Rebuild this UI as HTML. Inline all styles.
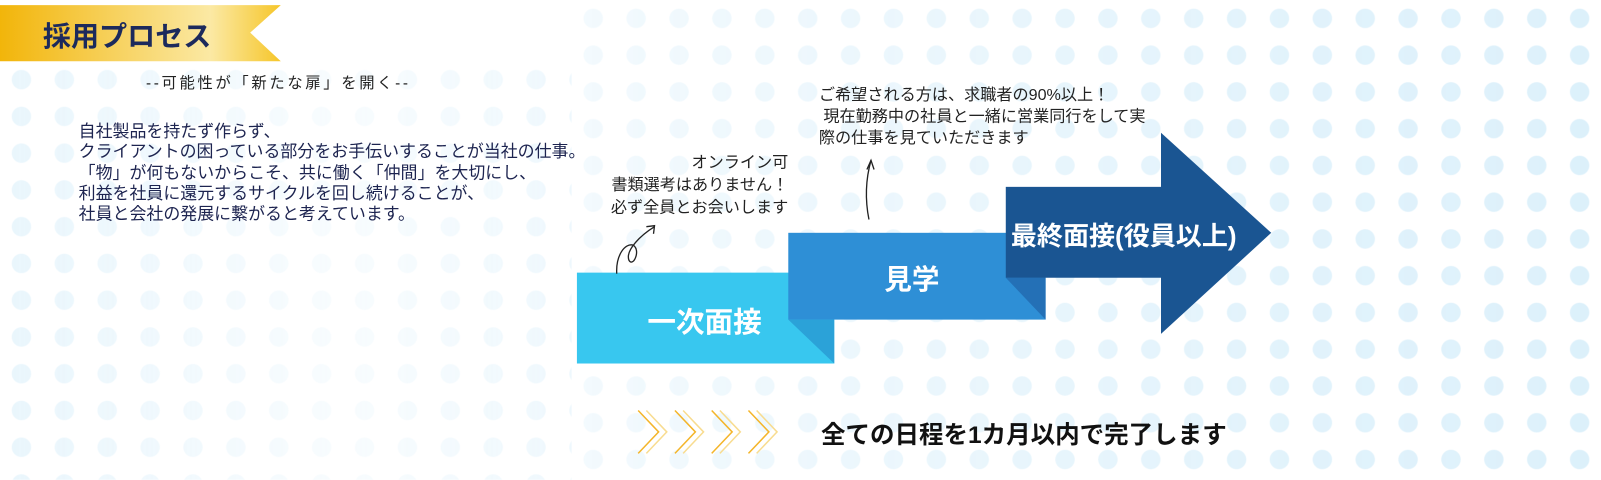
<!DOCTYPE html>
<html><head><meta charset="utf-8"><style>
html,body{margin:0;padding:0}
body{width:1601px;height:470px;position:relative;overflow:hidden;background:#fff;font-family:"Liberation Sans","Noto Sans CJK JP",sans-serif}
#w{position:absolute;left:0;top:0;width:1568px;height:460px;transform:scale(1.0211);transform-origin:0 0}
.dots{position:absolute;background-image:radial-gradient(circle,#cdeaf9 0,#cdeaf9 9px,transparent 10px);background-size:42px 36px}
.t{position:absolute;white-space:nowrap;color:#1d2450}
</style></head><body><div id="w">
<div class="dots" style="left:0;top:60px;width:560px;height:410px;opacity:.55;-webkit-mask-image:linear-gradient(90deg,rgba(0,0,0,.8),rgba(0,0,0,.25) 60%,rgba(0,0,0,.6))"></div>
<div class="dots" style="left:560px;top:0;width:1041px;height:470px;opacity:.7;-webkit-mask-image:linear-gradient(90deg,rgba(0,0,0,.35),rgba(0,0,0,.85) 70%,rgba(0,0,0,1))"></div>
<svg width="1601" height="470" style="position:absolute;left:0;top:0">
<defs><linearGradient id="g" x1="0" x2="1"><stop offset="0" stop-color="#f2b50a"/><stop offset=".75" stop-color="#fbe9a4"/><stop offset="1" stop-color="#f6c62a"/></linearGradient></defs>
<polygon points="0,5 275,5 245,32 275,60 0,60" fill="url(#g)"/>
<rect x="565" y="267" width="252" height="89" fill="#38c7ef"/>
<polygon points="772,313 817,313 817,356" fill="#2ba2d8"/>
<rect x="772" y="228" width="252" height="85" fill="#2e8fd6"/>
<polygon points="985,272 1024,272 1024,313" fill="#2470b6"/>
<rect x="985" y="183" width="155" height="89" fill="#1a5592"/>
<polygon points="1137,130 1245,228 1137,327" fill="#1a5592"/>
<path d="M604,268 C603,250 612,238 620,240 C628,245 620,262 616,255 C612,245 628,230 641,222" fill="none" stroke="#222" stroke-width="1.3"/>
<path d="M633,222 L641,221 L640,229" fill="none" stroke="#222" stroke-width="1.3"/>
<path d="M851,215 C847,195 848,175 853,157" fill="none" stroke="#222" stroke-width="1.3"/>
<path d="M849,166 L853,157 L856,166" fill="none" stroke="#222" stroke-width="1.3"/>
<g fill="none" stroke-width="1.5">
<g stroke="#f4b52a"><path d="M625,402 L645,423 L625,444"/><path d="M661,402 L681,423 L661,444"/><path d="M697,402 L717,423 L697,444"/><path d="M733,402 L753,423 L733,444"/></g>
<g stroke="#f8dc90"><path d="M633,402 L653,423 L633,444"/><path d="M669,402 L689,423 L669,444"/><path d="M705,402 L725,423 L705,444"/><path d="M741,402 L761,423 L741,444"/></g>
</g>
</svg>
<div class="t" style="left:42px;top:13px;font-size:27.5px;font-weight:bold;color:#1c2a5c">採用プロセス</div>
<div class="t" style="left:143px;top:70px;font-size:15px;letter-spacing:2.6px;color:#222">--可能性が「新たな扉」を開く--</div>
<div class="t" style="left:77px;top:119px;font-size:16.6px;line-height:20.3px">自社製品を持たず作らず、<br>クライアントの困っている部分をお手伝いすることが当社の仕事。<br>「物」が何もないからこそ、共に働く「仲間」を大切にし、<br>利益を社員に還元するサイクルを回し続けることが、<br>社員と会社の発展に繋がると考えています。</div>
<div class="t" style="left:572px;top:149px;width:200px;text-align:right;font-size:15.8px;line-height:22px;color:#222">オンライン可<br>書類選考はありません！<br>必ず全員とお会いします</div>
<div class="t" style="left:802px;top:83px;font-size:15.8px;line-height:21px;color:#222">ご希望される方は、求職者の90%以上！<br>&nbsp;現在勤務中の社員と一緒に営業同行をして実<br>際の仕事を見ていただきます</div>
<div class="t" style="left:634px;top:294px;font-size:28px;font-weight:bold;color:#fff">一次面接</div>
<div class="t" style="left:866px;top:252px;font-size:27px;font-weight:bold;color:#fff">見学</div>
<div class="t" style="left:990px;top:211px;font-size:25.5px;font-weight:bold;color:#fff">最終面接(役員以上)</div>
<div class="t" style="left:804px;top:406px;font-size:24px;font-weight:bold;color:#111">全ての日程を1カ月以内で完了します</div>
</div></body></html>
